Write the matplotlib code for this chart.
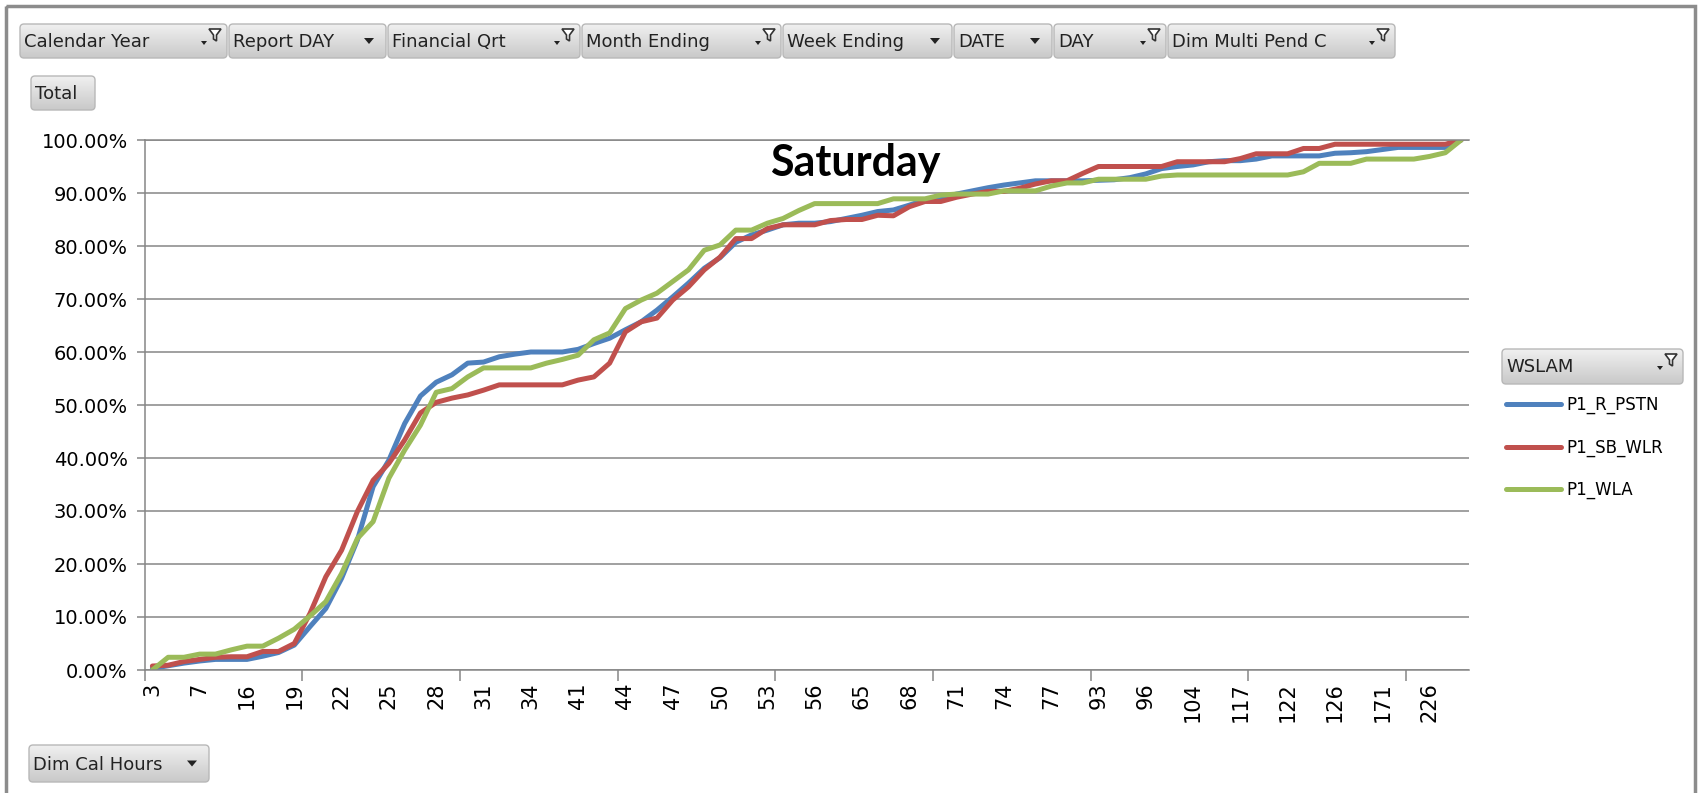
import numpy as np
import matplotlib.pyplot as plt
from matplotlib.colors import LinearSegmentedColormap
from matplotlib.patches import FancyBboxPatch, Polygon, Rectangle
from matplotlib.ticker import FuncFormatter

# Dim Cal Hours categories (only every third one is labelled on the chart)
hours = [3, 5, 6, 7, 10, 13, 16, 17, 18, 19, 20, 21, 22, 23, 24, 25, 26, 27,
         28, 29, 30, 31, 32, 33, 34, 37, 39, 41, 42, 43, 44, 45, 46, 47, 48,
         49, 50, 51, 52, 53, 54, 55, 56, 59, 62, 65, 66, 67, 68, 69, 70, 71,
         72, 73, 74, 75, 76, 77, 82, 88, 93, 94, 95, 96, 99, 101, 104, 109,
         113, 117, 119, 120, 122, 123, 125, 126, 140, 155, 171, 190, 210, 226,
         250, 290]

# cumulative % per WSLAM series
p1_r_pstn = [0.3, 0.8, 1.3, 1.7, 2.0, 2.0, 2.0, 2.6, 3.3, 4.7, 8.2, 11.6, 17.3,
             24.5, 34.6, 39.6, 46.5, 51.7, 54.3, 55.7, 57.9, 58.1, 59.1, 59.6,
             60.0, 60.0, 60.0, 60.5, 61.6, 62.6, 64.2, 65.7, 67.9, 70.4, 73.0,
             75.8, 77.8, 80.7, 82.1, 83.0, 84.0, 84.3, 84.3, 84.6, 85.2, 85.8,
             86.5, 86.8, 87.7, 88.7, 89.1, 89.8, 90.4, 91.0, 91.5, 91.9, 92.3,
             92.3, 92.3, 92.3, 92.4, 92.5, 92.9, 93.6, 94.6, 95.0, 95.3, 95.9,
             96.1, 96.1, 96.4, 97.0, 97.0, 97.0, 97.0, 97.5, 97.6, 97.8, 98.2,
             98.6, 98.6, 98.6, 98.6, 100.0]
p1_sb_wlr = [0.75, 0.9, 1.6, 2.0, 2.4, 2.5, 2.5, 3.5, 3.5, 5.0, 10.7, 17.6, 22.6,
             29.9, 35.8, 39.0, 43.4, 48.5, 50.5, 51.3, 51.9, 52.8, 53.8, 53.8,
             53.8, 53.8, 53.8, 54.7, 55.3, 57.9, 63.8, 65.7, 66.4, 69.8, 72.3,
             75.5, 77.9, 81.4, 81.4, 83.3, 84.0, 84.0, 84.0, 84.8, 85.0, 85.0,
             85.8, 85.7, 87.4, 88.4, 88.4, 89.2, 89.8, 90.3, 90.3, 90.9, 91.7,
             92.3, 92.3, 93.7, 95.0, 95.0, 95.0, 95.0, 95.0, 95.9, 95.9, 95.9,
             95.9, 96.5, 97.4, 97.4, 97.4, 98.4, 98.4, 99.2, 99.2, 99.2, 99.2,
             99.2, 99.2, 99.2, 99.2, 100.0]
p1_wla = [0.0, 2.4, 2.4, 3.0, 3.0, 3.8, 4.5, 4.5, 6.0, 7.7, 10.2, 12.9, 18.2,
          24.8, 28.0, 36.2, 41.5, 46.2, 52.4, 53.1, 55.3, 57.0, 57.0, 57.0,
          57.0, 57.9, 58.6, 59.4, 62.3, 63.6, 68.2, 69.8, 71.1, 73.3, 75.5,
          79.2, 80.2, 83.0, 83.0, 84.3, 85.2, 86.7, 88.0, 88.0, 88.0, 88.0,
          88.0, 88.9, 88.9, 88.9, 89.6, 89.8, 89.8, 89.8, 90.4, 90.4, 90.4,
          91.3, 91.9, 91.9, 92.6, 92.6, 92.6, 92.6, 93.2, 93.4, 93.4, 93.4,
          93.4, 93.4, 93.4, 93.4, 93.4, 94.0, 95.6, 95.6, 95.6, 96.4, 96.4,
          96.4, 96.4, 96.9, 97.6, 100.0]

series_names = ["P1_R_PSTN", "P1_SB_WLR", "P1_WLA"]
series_colors = ["#4F81BD", "#C0504D", "#9BBB59"]

filter_fields = ["Calendar Year", "Report DAY", "Financial Qrt", "Month Ending",
                 "Week Ending", "DATE", "DAY", "Dim Multi Pend C"]
filter_icons = ["funnel", "arrow", "funnel", "funnel", "arrow", "arrow",
                "funnel", "funnel"]
filter_edges = [20, 229, 388, 582, 783, 954, 1054, 1168, 1397]

W, H = 1700, 793
fig = plt.figure(figsize=(W / 100, H / 100), dpi=100)

# pixel-space layer for the pivot buttons and the frame
bg = fig.add_axes([0, 0, 1, 1], zorder=-1)
bg.set_xlim(0, W)
bg.set_ylim(H, 0)
bg.axis("off")

grad = np.linspace(0, 1, 50).reshape(-1, 1)
btn_cmap = LinearSegmentedColormap.from_list("btn", ["#f0f0f0", "#dcdcdc", "#c9c9c9"])


def button(x0, x1, y0, y1, label, icon=None):
    box = FancyBboxPatch((x0, y0), x1 - x0, y1 - y0,
                         boxstyle="round,pad=0,rounding_size=4",
                         fc="none", ec="#b8b8b8", lw=1.0)
    bg.add_patch(box)
    im = bg.imshow(grad, extent=(x0, x1, y1, y0), cmap=btn_cmap,
                   vmin=0, vmax=1, aspect="auto")
    im.set_clip_path(box)
    bg.text(x0 + 4, (y0 + y1) / 2 + 1, label, fontsize=13, color="#222222",
            va="center", ha="left")
    if icon == "arrow":
        cx, cy = x1 - 17, (y0 + y1) / 2
        bg.add_patch(Polygon([(cx - 5, cy - 3), (cx + 5, cy - 3), (cx, cy + 3)],
                             closed=True, fc="#222222", ec="none"))
    elif icon == "funnel":
        cx, t = x1 - 12, y0 + 5
        bg.add_patch(Polygon([(cx - 6, t), (cx + 6, t), (cx + 1.5, t + 6),
                              (cx + 1.5, t + 12), (cx - 1.5, t + 10),
                              (cx - 1.5, t + 6)],
                             closed=True, fc="white", ec="#333333", lw=1.2))
        ax0 = x1 - 23
        bg.add_patch(Polygon([(ax0 - 3, t + 12), (ax0 + 3, t + 12), (ax0, t + 16)],
                             closed=True, fc="#222222", ec="none"))


for i, name in enumerate(filter_fields):
    button(filter_edges[i], filter_edges[i + 1] - 2, 24, 58, name, filter_icons[i])
button(31, 95, 76, 110, "Total")
button(29, 209, 745, 782, "Dim Cal Hours", "arrow")
button(1502, 1683, 349, 384, "WSLAM", "funnel")

bg.add_patch(Rectangle((6, 6), W - 11, H + 20, fc="none", ec="#8c8c8c", lw=2.5))

# chart area
ax = fig.add_axes([144.5 / W, (H - 670) / H, 1324.5 / W, 530 / H])
ax.set_facecolor("none")
x = np.arange(len(hours))
for vals, name, col in zip([p1_r_pstn, p1_sb_wlr, p1_wla], series_names, series_colors):
    ax.plot(x, vals, color=col, lw=3.6, label=name, solid_joinstyle="round",
            solid_capstyle="round")

ax.set_xlim(-0.5, len(hours) - 0.5)
ax.set_ylim(0, 100)
ax.set_yticks(np.arange(0, 101, 10))
ax.yaxis.set_major_formatter(FuncFormatter(lambda v, _: f"{v:.2f}%"))
ax.grid(axis="y", color="#868686", lw=1.1)
ax.set_axisbelow(True)

ax.set_xticks(x[::3])
ax.set_xticklabels([str(h) for h in hours[::3]], rotation=90)
ax.set_xticks(np.arange(-0.5, len(hours), 10), minor=True)
ax.tick_params(axis="x", which="major", length=0, pad=9, labelsize=15)
ax.tick_params(axis="x", which="minor", length=8, color="#868686", width=1.1)
ax.tick_params(axis="y", length=6, color="#868686", width=1.1, labelsize=14, pad=6)

ax.spines["right"].set_visible(False)
for s in ["left", "bottom", "top"]:
    ax.spines[s].set_color("#868686")
    ax.spines[s].set_linewidth(1.1)

fig.text(855 / W, 1 - 176 / H, "Saturday", fontsize=31, fontweight="bold",
         family="Lato", ha="center", va="baseline")

ax.legend(loc="upper left", bbox_to_anchor=(1506 / W, 1 - 396 / H),
          bbox_transform=fig.transFigure, frameon=False, fontsize=12,
          handlelength=3.3, handletextpad=0.3, labelspacing=1.45,
          borderpad=0, borderaxespad=0)

fig.savefig("out.png", dpi=100)
